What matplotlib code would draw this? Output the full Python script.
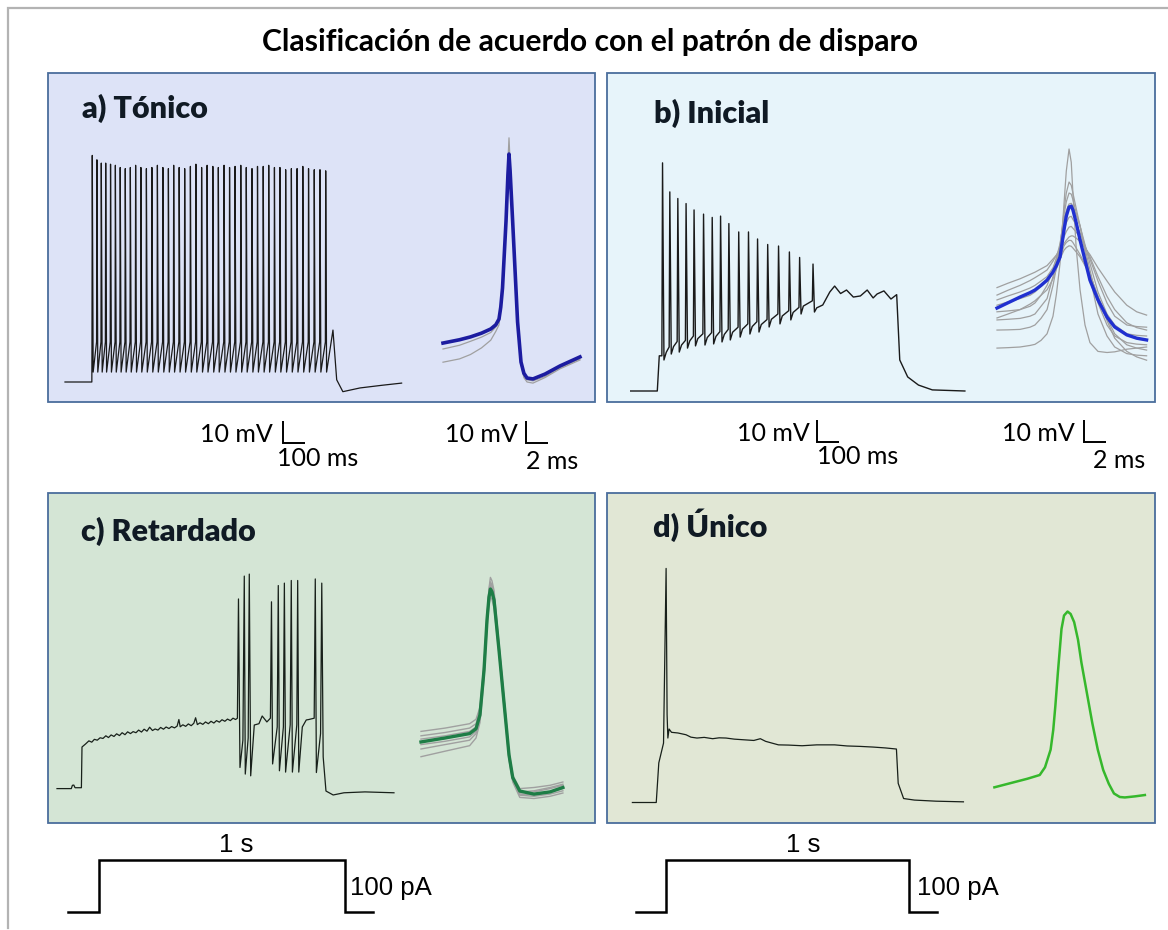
import matplotlib
matplotlib.use("Agg")
import matplotlib.pyplot as plt
from matplotlib.patches import Rectangle

# ---- recordings (time in ms, membrane potential in mV) ----

# a) tonic: spike train on a 1 s step
A_ONSET_T = [0, 122]
A_ONSET_V = [-70, -70]
A_SPIKE_T = [124, 145, 165, 185, 207, 229, 251, 274, 297, 321, 345, 370, 395, 420,
             445, 470, 494, 519, 544, 570, 595, 621, 646, 672, 697, 723, 748, 773,
             799, 824, 850, 875, 901, 926, 952, 977, 1003, 1029, 1055, 1081, 1107,
             1133, 1159, 1185]
A_SPIKE_PEAK = [33, 31, 29.5, 29.5, 29, 28.5, 27.5, 27, 27.5, 28.5, 27.5, 27, 27.5,
                28.5, 27.5, 27, 28.5, 27.5, 27, 28, 29, 27.5, 28.5, 28, 27.5, 28.5,
                27.5, 28, 28.5, 27.5, 27, 28, 28, 28.5, 27.5, 27.5, 26.5, 27, 27, 28,
                27, 26.5, 26.5, 26]
A_THRESH = -51.8
A_TROUGH = -65.5
A_TAIL_T = [1218, 1235, 1263, 1341, 1440, 1530]
A_TAIL_V = [-46.4, -69, -74.4, -72.7, -71.5, -70.5]

# a) average spike waveform and single sweeps
A_WAVE_T = [0, 1.5, 2.5, 3.5, 4.34, 4.8, 5.09, 5.25, 5.41, 5.73, 5.9, 6.0, 6.1, 6.33,
            6.78, 7.09, 7.35, 7.64, 8.18, 9.27, 10.64, 12.45]
A_WAVE_MEAN = [-52.3, -50.8, -49.5, -47.8, -45.9, -44.0, -41.4, -36, -27.3, 3.2, 24,
               33.6, 26, 3.2, -42.7, -60.9, -66, -68.2, -68.6, -66.4, -62.7, -58.6]
A_WAVE_SINGLE = [
    [-55, -53.3, -51.5, -49.6, -47.5, -45, -42, -36, -27, 5, 30, 41, 30, 4, -44, -62,
     -68, -70, -70.5, -68, -64, -60],
    [-61, -59.5, -57.5, -54.5, -51, -47, -44, -37, -28, 3, 27, 37, 27, 2, -43, -61,
     -67, -69, -69.5, -67.5, -63.5, -59.5],
]

# b) initial burst with decrementing spikes
B_ONSET_T = [0, 120.9, 129.9]
B_ONSET_V = [-70, -70, -54]
B_SPIKE_T = [144.7, 177.8, 214.2, 251.7, 288, 331.1, 370.5, 408.5, 446.2, 491, 535.4,
             576.6, 622.7, 672, 721.3, 767.8, 828.7]
B_SPIKE_PRE = [-54, -50, -47.5, -47, -45, -44, -43.5, -43, -42, -41, -39.5, -38.5,
               -37.5, -35, -33.5, -32, -29]
B_SPIKE_PEAK = [33.7, 20.5, 17.5, 15.2, 12.3, 10.4, 8.9, 9.5, 6.1, 2.3, 2.3, -0.9,
                -3.4, -4.1, -6.8, -9.3, -12.3]
B_SPIKE_TROUGH = [-55.9, -53.2, -52.3, -50.5, -49.5, -49.1, -48.6, -47.7, -46.8,
                  -45.5, -44.1, -43.2, -40.9, -39.5, -37.7, -35, -34.1]
B_SPIKE_AHP = [-52.4, -49.8, -49.1, -47.2, -46.2, -45.7, -45.2, -44.3, -43.3, -41.9,
               -40.7, -39.8, -37.4, -35.9, -34.3, -31.4, -32.2]
B_TAIL_T = [873, 905, 927, 954, 981, 1012, 1044, 1075, 1102, 1120, 1151, 1183, 1209,
            1223, 1259, 1308, 1371, 1519]
B_TAIL_V = [-30.9, -25, -22.3, -25.7, -24.1, -27.3, -26.8, -24.1, -27.7, -25.9, -24.5,
            -28.2, -26.2, -55.9, -63.6, -67.3, -69.5, -70]

B_WAVE_T = [0, 1.0, 2.09, 3.0, 3.45, 4.0, 4.55, 5.09, 5.4, 5.73, 6.09, 6.3, 6.55, 6.75,
            6.9, 7.2, 7.55, 8.0, 8.45, 9.18, 10, 10.7, 11.8, 12.7, 13.6]
B_WAVE_MEAN = [-32.3, -29.9, -27.3, -25.3, -24.1, -22.0, -19.6, -15.9, -13.0, -9.1, 3.2,
               9.5, 13.6, 14.0, 12.3, 6.5, -1.4, -10.5, -19.6, -28.6, -36.4, -40.9,
               -44.5, -46.0, -46.8]
B_WAVE_SINGLE = [
    [-50.5, -50.3, -50, -49.3, -48.8, -47, -44, -36, -26, -12, 15, 30, 40, 34, 20, -5,
     -24, -40, -48, -52, -52.5, -52.2, -51, -50.5, -50],
    [-23, -21, -19, -17, -16, -14.5, -13, -10, -8.2, -6, -3, -1.5, 0, 0.5, 0.5, -0.5,
     -2, -5, -8, -14, -20, -25, -31, -34, -35.5],
    [-26.4, -24.2, -22, -19.8, -18.5, -16.8, -15, -11, -8.3, -5, 0, 2.5, 4.5, 4.8, 4,
     2.2, 0, -4.5, -9, -18, -27, -33, -39, -41.2, -42.3],
    [-28.6, -26.8, -25, -23.2, -22, -20, -18, -14, -10, -5, 3, 6.5, 9, 9.4, 8, 5.5, 2,
     -4, -10, -20, -30, -36, -40, -40.7, -41],
    [-34, -33.6, -33, -31.5, -30, -26.5, -22, -15, -9.5, -3, 8, 12, 15, 15.3, 14, 10, 5,
     -3.5, -12, -25, -35, -40, -44, -44.7, -45],
    [-37.7, -37.4, -37, -36, -35, -31.5, -28, -18, -11.5, -4, 10, 16, 20, 19.5, 17, 11,
     5, -5, -15, -30, -40, -45, -48, -48.7, -49],
    [-42.3, -42.2, -42, -41, -40, -37, -33, -22, -14, -5, 12, 20, 25, 23.5, 20, 13, 5,
     -6.5, -18, -35, -45, -50, -53, -53.7, -54],
    [-31, -29.5, -28, -26.5, -25, -22.5, -20, -16, -13.2, -10, -6, -4.8, -4, -4.2, -5,
     -6.8, -9, -13, -17, -27, -38, -46, -52, -54.5, -56],
    [-36.8, -35, -33, -30.5, -29, -26.5, -24, -19, -14.5, -10, -4, -2.5, -1.5, -1.6,
     -2.5, -5, -8, -12.5, -17, -27, -37, -44, -49, -50.5, -51.4],
]

# c) delayed firing
C_MAIN_T = [0, 65, 70, 76.4, 82, 89.5, 110.9, 113.6,
            130, 145, 158, 170, 183, 196, 209, 222, 234, 246, 259, 271, 284, 296, 309,
            321, 334, 346, 359, 371, 384, 396, 409, 421, 434, 446, 459, 471, 484, 496,
            509, 521, 534, 546, 554, 560, 572, 585, 597, 610, 622, 630, 638, 650, 663,
            675, 688, 700, 713, 725, 738, 750, 763, 775, 788, 800, 811.7,
            820, 824.9, 831.7, 845, 851.3, 855.8, 869, 874, 880.4, 896.7, 918, 932.7,
            954, 970, 974.9, 980, 1001, 1005.8, 1011, 1029, 1033.5, 1039, 1060, 1064.9,
            1070, 1090, 1094, 1099, 1115, 1133, 1144.4, 1169, 1174, 1179, 1198, 1203.5,
            1209.9, 1222.6, 1255.3, 1304.4, 1400, 1531.7]
C_MAIN_V = [-70, -70, -68.5, -68.4, -69.6, -69.6, -69.6, -51.1,
            -49.7, -48.3, -48.9, -47.6, -48.0, -46.9, -47.2, -46.0, -46.8, -45.6, -46.3,
            -45.1, -45.9, -44.6, -45.5, -44.2, -45.0, -44.1, -44.6, -43.4, -44.3, -43.0,
            -43.9, -42.1, -43.6, -42.9, -43.4, -42.2, -43.0, -42.0, -42.7, -41.8, -42.4,
            -41.6, -38.6, -41.9, -41.0, -41.7, -40.6, -41.4, -40.3, -37.8, -40.9, -40.1,
            -40.8, -39.7, -40.5, -39.4, -40.2, -39.1, -39.8, -38.7, -39.4, -38.4, -39.1,
            -38.0, -38.6,
            -38, 16.2, -60.4, -48, 26.6, -63.4, -47, 27.5, -64.2, -41.1, -40.5, -37,
            -39.7, -38, 14.9, -58.8, -42, 22.3, -61.9, -42, 23.4, -62.5, -41, 24.6,
            -62.5, -41, 24.6, -62.5, -42, -38.8, -38.6, -38, 25.3, -62.7, -45, 23.4,
            -55.6, -71.1, -72.9, -71.9, -71.5, -71.9]

C_WAVE_T = [0, 2.18, 4.42, 5.0, 5.36, 5.73, 6.0, 6.18, 6.31, 6.45, 6.64, 7.09, 7.68, 8.0,
            8.34, 8.98, 10.27, 11.73, 12.9]
C_WAVE_MEAN = [-48.8, -47, -45, -42.8, -36.5, -16.1, 6.6, 17, 20.7, 19.5, 15.7, -7,
               -37.9, -54.7, -65, -71.1, -72.5, -71.5, -69.5]
C_WAVE_SINGLE = [
    [-44, -42.5, -40.5, -38.5, -33, -13, 9, 20, 24, 22.5, 18, -5, -36, -53, -64, -70,
     -69.5, -68.5, -67],
    [-46, -44.5, -42.5, -40.5, -34, -14, 8, 18.5, 22, 21, 17, -6, -37, -54, -65, -71.5,
     -71, -69.5, -68],
    [-52, -50, -48, -45, -38, -18, 5, 15.5, 19, 18, 14, -8, -39, -56, -66, -73, -73.5,
     -72.5, -71],
    [-55.5, -53, -50.5, -47, -40, -20, 3, 13.5, 17, 16, 12, -9, -40, -57, -67, -74,
     -74.5, -73.5, -72],
    [-50, -48.5, -46.5, -44, -37, -16, 7, 21, 26, 24.5, 20, -4, -36, -55, -66, -72,
     -71.5, -70, -68.5],
    [-47.5, -46, -44, -42, -35, -15, 8, 19, 23, 22, 18, -5, -37, -55, -66, -72.5, -73,
     -71.5, -70],
]

# d) single spike
D_MAIN_T = [0, 108.4, 120, 141.5, 153.2, 157.7, 161.2, 166.7, 177.8, 207, 243.6, 266,
            293.4, 326.5, 364.7, 394.2, 425.6, 463.2, 507.1, 551.9, 581.5, 605.6, 630.8,
            663.9, 709.6, 771.4, 837.8, 919.2, 975.7, 1035.7, 1094, 1150.4, 1200.1,
            1208.2, 1232.8, 1282.1, 1379.8, 1504.7]
D_MAIN_V = [-70, -70, -52, -43, 36.4, -30, -40.7, -36.6, -38.1, -38.4, -39.2, -40.3,
            -40.7, -40.4, -41, -40.6, -40.7, -41.2, -41.5, -41.8, -41.0, -42.2, -42.9,
            -43.8, -43.9, -44.2, -43.8, -43.8, -44.3, -44.5, -44.8, -45.2, -45.7, -61.3,
            -68.2, -68.9, -69.4, -69.7]

D_WAVE_T = [0, 1.0, 2.0, 3.0, 4.12, 4.6, 5.11, 5.35, 5.54, 5.77, 6.1, 6.33, 6.65, 6.93,
            7.25, 7.6, 7.91, 8.4, 8.9, 9.4, 9.89, 10.4, 10.87, 11.4, 11.86, 12.8, 13.68]
D_WAVE_MEAN = [-63.1, -61.8, -60.5, -59.2, -57.5, -54, -46, -37, -26.2, -11, 8.9, 15,
               16.8, 15.7, 12, 4, -6.4, -20, -33.9, -46, -55.2, -61.5, -65.9, -67.5,
               -67.7, -67.2, -66.6]

# current step protocol
STIM_T = [-125, 0, 0, 1000, 1000, 1115]
STIM_I = [0, 0, 100, 100, 0, 0]

# ---- layout (pixels) ----
W, H = 1168, 930
MV_PX = 10 / 22
MS_PX_TRAIN = 100 / 22
MS_PX_WAVE = 2 / 22

BOX_A = (48, 73, 595, 402)
BOX_B = (607, 73, 1155, 402)
BOX_C = (48, 493, 595, 823)
BOX_D = (607, 493, 1155, 823)

BODY_FONT = "Lato"
ARIAL = "Liberation Sans"
TRACE = "#1a1a1a"
GREY = "#a0a0a0"

fig = plt.figure(figsize=(W / 100, H / 100), dpi=100)
fig.patch.set_facecolor("white")

page = fig.add_axes([0, 0, 1, 1])
page.set_xlim(0, W)
page.set_ylim(H, 0)
page.axis("off")

# outer frame (top and left edge only)
page.plot([8, 8, W], [928, 8, 8], color="#b3b3b3", lw=1.6, solid_joinstyle="miter")

page.text(590, 51, "Clasificación de acuerdo con el patrón de disparo",
          ha="center", va="baseline", fontsize=21.7, fontweight="bold", family=BODY_FONT)

panels = [
    (BOX_A, "#dde3f7", "a) Tónico", (82, 118)),
    (BOX_B, "#e7f4fa", "b) Inicial", (654, 123)),
    (BOX_C, "#d4e5d5", "c) Retardado", (81, 541)),
    (BOX_D, "#e1e7d5", "d) Único", (653, 537)),
]
for (x0, y0, x1, y1), bg, label, (lx, ly) in panels:
    page.add_patch(Rectangle((x0, y0), x1 - x0, y1 - y0, facecolor=bg,
                             edgecolor="#4a6d9c", lw=1.3, zorder=0))
    page.text(lx, ly, label, ha="left", va="baseline", fontsize=22,
              fontweight="heavy", family=BODY_FONT, color="#101a24")


def trace_axes(box, origin, ms_px):
    # axes over the panel box; origin is the pixel where (0 ms, -70 mV) falls
    x0, y0, x1, y1 = box
    ox, oy = origin
    ax = fig.add_axes([x0 / W, 1 - y1 / H, (x1 - x0) / W, (y1 - y0) / H])
    ax.set_xlim((x0 - ox) * ms_px, (x1 - ox) * ms_px)
    ax.set_ylim(-70 + (oy - y1) * MV_PX, -70 + (oy - y0) * MV_PX)
    ax.axis("off")
    return ax


def scale_bar(ax, corner, dt, dv):
    t0, v0 = ax.transData.inverted().transform((corner[0], H - corner[1]))
    ax.plot([t0, t0, t0 + dt], [v0 + dv, v0, v0], color="black", lw=1.4,
            clip_on=False, solid_joinstyle="miter", solid_capstyle="butt")


def spike_train(onset_t, onset_v, spikes, pre, peaks, troughs, ahp, rise, fall, tail_t, tail_v):
    t, v = list(onset_t), list(onset_v)
    for ts, p0, pk, tr, ah in zip(spikes, pre, peaks, troughs, ahp):
        t += [ts - rise, ts, ts + fall, ts + 2.6 * fall]
        v += [p0, pk, tr, ah]
    return t + list(tail_t), v + list(tail_v)


# a) tonic
ta, va = list(A_ONSET_T), list(A_ONSET_V)
for i, (ts, pk) in enumerate(zip(A_SPIKE_T, A_SPIKE_PEAK)):
    ta += [ts - 1.5, ts, ts + 4]
    va += [A_THRESH if i else -55, pk, A_TROUGH]
ta += A_TAIL_T
va += A_TAIL_V
ax = trace_axes(BOX_A, (65, 382), MS_PX_TRAIN)
ax.plot(ta, va, color=TRACE, lw=0.9)
scale_bar(ax, (283, 443), 100, 10)

ax = trace_axes(BOX_A, (443, 382), MS_PX_WAVE)
for trace in A_WAVE_SINGLE:
    ax.plot(A_WAVE_T, trace, color=GREY, lw=0.9)
ax.plot(A_WAVE_T, A_WAVE_MEAN, color="#1c1ca0", lw=2.6)
scale_bar(ax, (526, 443), 2, 10)

# b) initial
tb, vb = spike_train(B_ONSET_T, B_ONSET_V, B_SPIKE_T, B_SPIKE_PRE, B_SPIKE_PEAK,
                     B_SPIKE_TROUGH, B_SPIKE_AHP, 3, 6.5, B_TAIL_T, B_TAIL_V)
ax = trace_axes(BOX_B, (630.7, 391), MS_PX_TRAIN)
ax.plot(tb, vb, color=TRACE, lw=1.0)
scale_bar(ax, (817, 442), 100, 10)

ax = trace_axes(BOX_B, (997, 391), MS_PX_WAVE)
for trace in B_WAVE_SINGLE:
    ax.plot(B_WAVE_T, trace, color=GREY, lw=0.9)
ax.plot(B_WAVE_T, B_WAVE_MEAN, color="#2030d0", lw=2.4)
scale_bar(ax, (1084, 442), 2, 10)

# c) delayed
ax = trace_axes(BOX_C, (57, 788.6), MS_PX_TRAIN)
ax.plot(C_MAIN_T, C_MAIN_V, color="#18201a", lw=0.9)

ax = trace_axes(BOX_C, (421, 788.6), MS_PX_WAVE)
for trace in C_WAVE_SINGLE:
    ax.plot(C_WAVE_T, trace, color=GREY, lw=1.0)
ax.plot(C_WAVE_T, C_WAVE_MEAN, color="#1e7d46", lw=2.4)

# d) single
ax = trace_axes(BOX_D, (632.4, 802.5), MS_PX_TRAIN)
ax.plot(D_MAIN_T, D_MAIN_V, color="#18201a", lw=0.9)

ax = trace_axes(BOX_D, (994.4, 802.5), MS_PX_WAVE)
ax.plot(D_WAVE_T, D_WAVE_MEAN, color="#36b82c", lw=1.8)

# scale bar labels
for x, y, s, ha in [(273, 442, "10 mV", "right"), (277, 466, "100 ms", "left"),
                    (518, 442, "10 mV", "right"), (526, 469, "2 ms", "left"),
                    (810, 441, "10 mV", "right"), (817, 464, "100 ms", "left"),
                    (1075, 441, "10 mV", "right"), (1093, 468, "2 ms", "left")]:
    page.text(x, y, s, ha=ha, va="baseline", fontsize=18, family=BODY_FONT)

# current step protocol under the bottom row
for x0, x1, sx, px in [(68, 373, 236, 350), (636, 937, 803, 917)]:
    ax = fig.add_axes([x0 / W, 1 - 912 / H, (x1 - x0) / W, 52 / H])
    ax.set_xlim(STIM_T[0], STIM_T[-1])
    ax.set_ylim(0, 100)
    ax.axis("off")
    ax.plot(STIM_T, STIM_I, color="black", lw=1.8, clip_on=False,
            solid_joinstyle="miter")
    page.text(sx, 852, "1 s", ha="center", va="baseline", fontsize=18.5, family=ARIAL)
    page.text(px, 895, "100 pA", ha="left", va="baseline", fontsize=18.5, family=ARIAL)

fig.savefig("out.png", dpi=100, facecolor="white")
